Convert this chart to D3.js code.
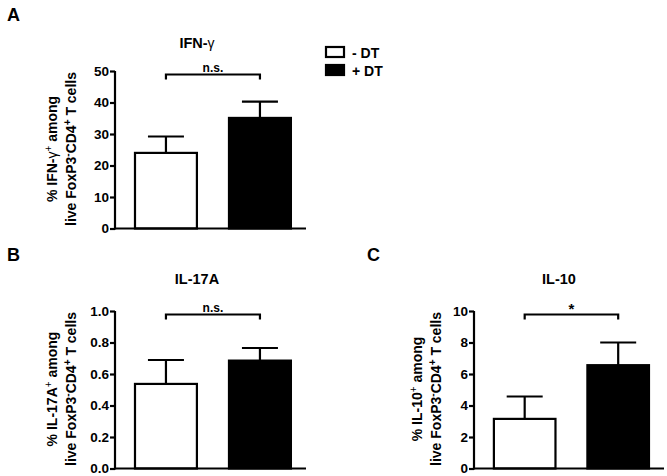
<!DOCTYPE html>
<html><head><meta charset="utf-8">
<script src="https://cdn.jsdelivr.net/npm/d3@7"></script>
<style>
html,body{margin:0;padding:0;background:#fff;}
svg text{font-family:"Liberation Sans",Arial,sans-serif;font-weight:bold;fill:#000;}
</style></head>
<body>
<svg id="chart" width="667" height="476"></svg>
<script>
const groups = ["- DT", "+ DT"];
const ifngMeans = [24.0, 35.1];
const ifngErrTop = [29.2, 40.3];
const il17Means = [0.537, 0.685];
const il17ErrTop = [0.689, 0.765];
const il10Means = [3.15, 6.56];
const il10ErrTop = [4.57, 8.0];
const ifngTicks = [0, 10, 20, 30, 40, 50];
const il17Ticks = [0.0, 0.2, 0.4, 0.6, 0.8, 1.0];
const il10Ticks = [0, 2, 4, 6, 8, 10];
const sigLabels = ["n.s.", "n.s.", "*"];

const svg = d3.select("#chart");
const FS = 14;

function panel(cfg) {
  const g = svg.append("g");
  const x = d3.scaleBand().domain(groups).range([cfg.x0, cfg.x1])
    .paddingInner(0.32).paddingOuter(0.176).align(0.574);
  const y = d3.scaleLinear().domain([0, cfg.max]).range([cfg.yb, cfg.yt]);

  g.append("text").attr("x", cfg.letterX).attr("y", cfg.letterY)
    .attr("font-size", 18).text(cfg.letter);

  const t = g.append("text").attr("x", cfg.titleX).attr("y", cfg.titleY)
    .attr("text-anchor", "middle").attr("font-size", 14.5);
  cfg.title(t);

  const data = groups.map((d, i) => ({ g: d, v: cfg.means[i], e: cfg.err[i], i }));
  data.forEach(d => {
    const cx = x(d.g) + x.bandwidth() / 2;
    g.append("line").attr("x1", cx).attr("x2", cx).attr("y1", y(d.v)).attr("y2", y(d.e))
      .attr("stroke", "#000").attr("stroke-width", 2.2);
    g.append("line").attr("x1", cx - 18).attr("x2", cx + 18).attr("y1", y(d.e)).attr("y2", y(d.e))
      .attr("stroke", "#000").attr("stroke-width", 2.2);
  });
  g.selectAll("rect.bar").data(data).join("rect")
    .attr("x", d => x(d.g) + 1).attr("width", x.bandwidth() - 2)
    .attr("y", d => y(d.v)).attr("height", d => y(0) - y(d.v))
    .attr("fill", d => d.i === 0 ? "#fff" : "#000")
    .attr("stroke", "#000").attr("stroke-width", 2.2);

  const ya = d3.axisLeft(y).tickValues(cfg.ticks).tickSize(5).tickPadding(1)
    .tickFormat(cfg.fmt);
  const ag = g.append("g").attr("transform", `translate(${cfg.x0},0)`).call(ya);
  ag.select(".domain").attr("stroke-width", 2.2).attr("d", `M0,${cfg.yt}V${cfg.yb + 1}`);
  ag.selectAll(".tick line").attr("stroke-width", 2.2);
  ag.selectAll(".tick text").attr("font-size", 13.5).attr("font-weight", "bold")
    .attr("font-family", '"Liberation Sans",Arial,sans-serif');
  g.append("line").attr("x1", cfg.x0 - 1).attr("x2", cfg.x1).attr("y1", y(0)).attr("y2", y(0))
    .attr("stroke", "#000").attr("stroke-width", 2.2);

  const bx1 = x(groups[0]) + x.bandwidth() / 2, bx2 = x(groups[1]) + x.bandwidth() / 2;
  const by = cfg.yt + 3.5;
  g.append("path").attr("d", `M${bx1},${by + 5}V${by}H${bx2}V${by + 5}`)
    .attr("fill", "none").attr("stroke", "#000").attr("stroke-width", 2.2);
  g.append("text").attr("x", (bx1 + bx2) / 2).attr("y", cfg.sig === "*" ? by - 1 : by - 3)
    .attr("text-anchor", "middle").attr("font-size", cfg.sig === "*" ? 15 : 12).text(cfg.sig);

  const lg = g.append("g").attr("transform", `translate(${cfg.labX},${cfg.labY}) rotate(-90)`);
  const l1 = lg.append("text").attr("x", 0).attr("y", 0).attr("text-anchor", "middle").attr("font-size", FS);
  cfg.lab1(l1);
  const l2 = lg.append("text").attr("x", 0).attr("y", 19).attr("text-anchor", "middle").attr("font-size", FS);
  l2.append("tspan").text("live FoxP3");
  l2.append("tspan").attr("dy", -5).attr("font-size", 10).text("-");
  l2.append("tspan").attr("dy", 5).text("CD4");
  l2.append("tspan").attr("dy", -5).attr("font-size", 10).text("+");
  l2.append("tspan").attr("dy", 5).text(" T cells");
}

const fmtInt = d3.format("d");
const fmt1 = d3.format(".1f");

function supLab(t, pre, greek) {
  t.append("tspan").text(pre);
  if (greek) t.append("tspan").attr("font-weight", "normal").text(greek);
  t.append("tspan").attr("dy", -5).attr("font-size", 10).attr("font-weight", "normal").text("+");
  t.append("tspan").attr("dy", 5).text(" among");
}

panel({
  letter: "A", letterX: 7, letterY: 21,
  x0: 115, x1: 306, yb: 228.5, yt: 71, max: 50,
  means: ifngMeans, err: ifngErrTop, ticks: ifngTicks, fmt: fmtInt, sig: sigLabels[0],
  titleX: 197, titleY: 48,
  title: t => { t.append("tspan").text("IFN-"); t.append("tspan").attr("font-weight", "normal").attr("font-size", 14).text("γ"); },
  labX: 57, labY: 149,
  lab1: t => supLab(t, "% IFN-", "γ")
});

panel({
  letter: "B", letterX: 7, letterY: 261,
  x0: 115, x1: 306, yb: 468.5, yt: 311, max: 1.0,
  means: il17Means, err: il17ErrTop, ticks: il17Ticks, fmt: fmt1, sig: sigLabels[1],
  titleX: 197, titleY: 284,
  title: t => t.text("IL-17A"),
  labX: 57, labY: 389,
  lab1: t => supLab(t, "% IL-17A", null)
});

panel({
  letter: "C", letterX: 367, letterY: 261,
  x0: 474, x1: 664, yb: 468.5, yt: 311, max: 10,
  means: il10Means, err: il10ErrTop, ticks: il10Ticks, fmt: fmtInt, sig: sigLabels[2],
  titleX: 559, titleY: 284,
  title: t => t.text("IL-10"),
  labX: 422, labY: 389,
  lab1: t => supLab(t, "% IL-10", null)
});

const leg = svg.append("g");
groups.forEach((gname, i) => {
  const yy = 47 + i * 18;
  leg.append("rect").attr("x", 326).attr("y", yy).attr("width", 18).attr("height", 10)
    .attr("fill", i === 0 ? "#fff" : "#000").attr("stroke", "#000").attr("stroke-width", 2.2);
  leg.append("text").attr("x", 352).attr("y", yy + 10.5).attr("font-size", 14).text(gname);
});
</script>
</body></html>
